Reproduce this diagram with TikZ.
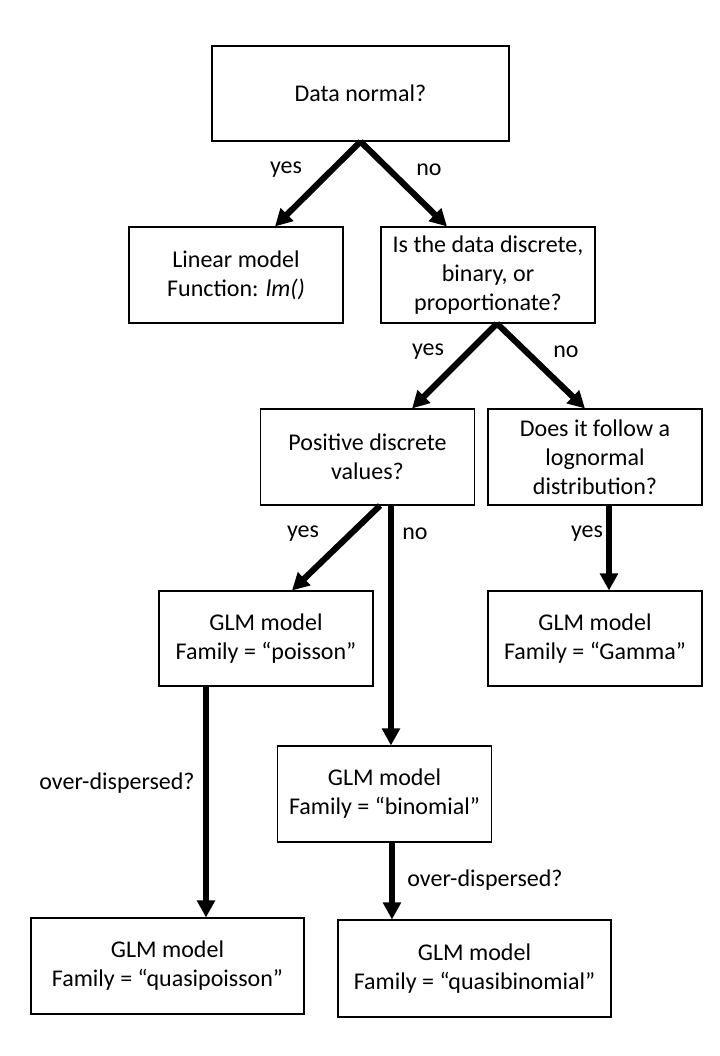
\documentclass[tikz,border=0pt]{standalone}
\usepackage{fontspec}
\setmainfont{Carlito}
\usetikzlibrary{arrows.meta}
\begin{document}
\begin{tikzpicture}[x=0.75pt,y=-0.75pt,
  box/.style={draw=black,line width=0.8pt,align=center,inner sep=0pt,
    font=\fontsize{18}{21.8}\selectfont},
  lbl/.style={inner sep=0pt,font=\fontsize{18}{21.8}\selectfont},
  arr/.style={line width=4.6pt,-{Triangle[length=12.75pt,width=13pt]}}]
\useasboundingbox[fill=white] (0,0) rectangle (720,1056);
\node[box,minimum width=222.75pt,minimum height=71.25pt] (top) at (360.5,93.5) {Data normal?};
\node[box,minimum width=160.5pt,minimum height=72pt] (lin) at (236,275) {Linear model\\Function: \textit{lm()}};
\node[box,minimum width=160.5pt,minimum height=72pt] (isd) at (488,275) {Is the data discrete,\\binary, or\\proportionate?};
\node[box,minimum width=160pt,minimum height=72pt] (pos) at (367.5,457) {Positive discrete\\values?};
\node[box,minimum width=160.5pt,minimum height=72pt] (logn) at (595,457) {Does it follow a\\lognormal\\distribution?};
\node[box,minimum width=160.5pt,minimum height=71.25pt] (poi) at (266,638.5) {GLM model\\Family = “poisson”};
\node[box,minimum width=160.5pt,minimum height=71.25pt] (gam) at (595,638.5) {GLM model\\Family = “Gamma”};
\node[box,minimum width=160pt,minimum height=72pt] (bin) at (384.5,794) {GLM model\\Family = “binomial”};
\node[box,minimum width=204.75pt,minimum height=72pt] (qpoi) at (167.5,966) {GLM model\\Family = “quasipoisson”};
\node[box,minimum width=204.75pt,minimum height=72.75pt] (qbin) at (474.5,968.5) {GLM model\\Family = “quasibinomial”};
% arrows
\draw[arr] (top.south) -- ([xshift=29.25pt]lin.north);
\draw[arr] (top.south) -- ([xshift=-30.75pt]isd.north);
\draw[arr] ([xshift=6.75pt]isd.south) -- ([xshift=33.4pt]pos.north);
\draw[arr] ([xshift=6.75pt]isd.south) -- ([xshift=-7.5pt]logn.north);
\draw[arr] ([xshift=9.4pt]pos.south) -- ([xshift=19.5pt]poi.north);
\draw[arr] ([xshift=17.6pt]pos.south) -- ([xshift=17.6pt]pos.south |- bin.north);
\draw[arr] ([xshift=10.5pt]logn.south) -- ([xshift=10.5pt]logn.south |- gam.north);
\draw[arr] ([xshift=-45pt]poi.south) -- ([xshift=-45pt]poi.south |- qpoi.north);
\draw[arr] ([xshift=5.6pt]bin.south) -- ([xshift=5.6pt]bin.south |- qbin.north);
% labels
\node[lbl] (l1) at (286,170) {yes};
\node[lbl] (l2) at (429,170) {no};
\node[lbl] (l3) at (428,352) {yes};
\node[lbl] (l4) at (566,352) {no};
\node[lbl] (l5) at (303,534) {yes};
\node[lbl] (l6) at (415,534) {no};
\node[lbl] (l7) at (587,534) {yes};
\node[lbl] (l8) at (117,783) {over-dispersed?};
\node[lbl] (l9) at (485,880) {over-dispersed?};
\end{tikzpicture}
\end{document}
